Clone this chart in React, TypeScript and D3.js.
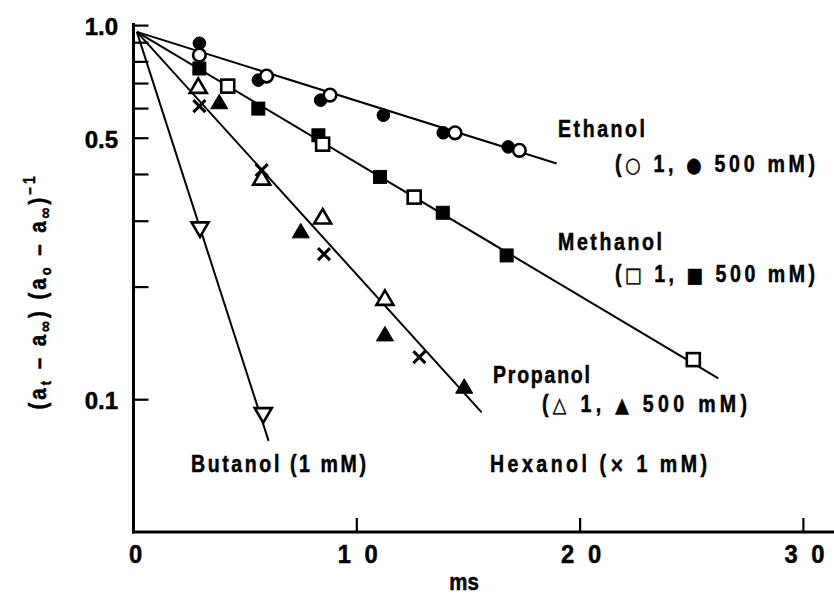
import React from "react";
import * as d3 from "d3";

type Pt = [number, number];

// ---- data (time in ms, normalized absorbance) ----
const ethanolFilled: Pt[] = [[2.95, 0.897], [5.59, 0.715], [8.38, 0.632], [11.19, 0.576], [13.87, 0.517], [16.78, 0.474]];
const ethanolOpen: Pt[] = [[2.95, 0.834], [5.96, 0.733], [8.8, 0.652], [14.4, 0.517], [17.28, 0.464]];
const methanolFilled: Pt[] = [[2.95, 0.768], [5.59, 0.6], [8.28, 0.509], [11.04, 0.394], [13.85, 0.316], [16.71, 0.243]];
const methanolOpen: Pt[] = [[4.22, 0.689], [8.47, 0.482], [12.57, 0.348], [25.07, 0.128]];
const propanolOpen: Pt[] = [[2.9, 0.686], [5.74, 0.39], [8.47, 0.307], [11.26, 0.186]];
const propanolFilled: Pt[] = [[3.84, 0.622], [7.49, 0.281], [11.26, 0.149], [14.81, 0.108]];
const hexanolCross: Pt[] = [[2.95, 0.609], [5.74, 0.411], [8.53, 0.245], [12.8, 0.13]];
const butanolOpen: Pt[] = [[2.98, 0.287], [5.81, 0.0915]];

// fitted lines: [start, end]
const lineStart: Pt = [0.15, 0.962];
const ethanolLineEnd: Pt = [18.95, 0.428];
const methanolLineEnd: Pt = [26.19, 0.114];
const propanolLineEnd: Pt = [15.59, 0.0925];
const butanolLineEnd: Pt = [6.05, 0.0776];

const xTicks = [10, 20, 30];
const xTickLabels = ["1 0", "2 0", "3 0"];
const yMinorTicks = [0.9, 0.8, 0.7, 0.6, 0.4, 0.3, 0.2];
const yMajorTicks = [1.0, 0.5, 0.1];
const yTickLabels = ["1.0", "0.5", "0.1"];

const FONT = "'Liberation Sans', Arial, sans-serif";
const SYMFONT = "'DejaVu Sans', sans-serif";

const W = 834;
const H = 603;

type Seg = { t: string; sym?: boolean };

function T(props: { x: number; y: number; txt: string | Seg[]; size: number; len?: number; anchor?: string; sx?: number }) {
  const { x, y, txt, size, len, anchor } = props;
  const sx = props.sx ?? 0.85;
  const segs: Seg[] = typeof txt === "string" ? [{ t: txt }] : txt;
  return (
    <g transform={`translate(${x},${y}) scale(${sx},1)`}>
      <text
        x={0}
        y={0}
        fontSize={size}
        fontFamily={FONT}
        fontWeight="bold"
        stroke="#000"
        strokeWidth={0.5}
        textAnchor={anchor || "start"}
        textLength={len ? len / sx : undefined}
        lengthAdjust="spacing"
      >
        {segs.map((s, i) =>
          s.sym ? (
            <tspan key={i} fontFamily={SYMFONT} fontSize={size * 0.9} fontWeight="bold">
              {s.t}
            </tspan>
          ) : (
            <tspan key={i}>{s.t}</tspan>
          )
        )}
      </text>
    </g>
  );
}

export default function App() {
  const x = d3.scaleLinear().domain([0, 31.37]).range([133.5, 834]);
  const y = d3.scaleLog().domain([0.0443, 1]).range([532, 25.6]);

  const line = d3.line<Pt>().x((d) => x(d[0])).y((d) => y(d[1]));

  const marker = (p: Pt, kind: string, i: number) => {
    const cx = x(p[0]);
    const cy = y(p[1]);
    const open = kind.startsWith("open");
    const fill = open ? "#fff" : "#000";
    const sw = open ? 2.6 : 1;
    if (kind.endsWith("circle")) return <circle key={i} cx={cx} cy={cy} r={6.3} fill={fill} stroke="#000" strokeWidth={sw} />;
    if (kind.endsWith("square")) return <rect key={i} x={cx - 6.5} y={cy - 6.5} width={13} height={13} fill={fill} stroke="#000" strokeWidth={sw} />;
    if (kind.endsWith("triup")) {
      const pth = `M${cx},${cy - 8.5}L${cx + 8.5},${cy + 6}L${cx - 8.5},${cy + 6}Z`;
      return <path key={i} d={pth} fill={fill} stroke="#000" strokeWidth={sw} />;
    }
    if (kind.endsWith("tridown")) {
      const pth = `M${cx - 8.5},${cy - 6}L${cx + 8.5},${cy - 6}L${cx},${cy + 8.5}Z`;
      return <path key={i} d={pth} fill={fill} stroke="#000" strokeWidth={sw} />;
    }
    const s = 6;
    return <path key={i} d={`M${cx - s},${cy - s}L${cx + s},${cy + s}M${cx + s},${cy - s}L${cx - s},${cy + s}`} stroke="#000" strokeWidth={3} fill="none" />;
  };

  const series: [Pt[], string][] = [
    [ethanolFilled, "filledcircle"],
    [ethanolOpen, "opencircle"],
    [methanolFilled, "filledsquare"],
    [methanolOpen, "opensquare"],
    [propanolFilled, "filledtriup"],
    [propanolOpen, "opentriup"],
    [hexanolCross, "cross"],
    [butanolOpen, "opentridown"],
  ];

  const lineEnds = [ethanolLineEnd, methanolLineEnd, propanolLineEnd, butanolLineEnd];

  const axisY0 = y.range()[0];
  const axisX0 = x(0);

  return (
    <svg width={W} height={H} style={{ position: "absolute", left: 0, top: 0, background: "#fff" }}>
      <rect x={0} y={0} width={W} height={H} fill="#fff" />
      {lineEnds.map((e, i) => (
        <path key={i} d={line([lineStart, e]) || ""} stroke="#000" strokeWidth={2} fill="none" />
      ))}
      {/* axes */}
      <line x1={axisX0} y1={23} x2={axisX0} y2={axisY0 + 1.5} stroke="#000" strokeWidth={3} />
      <line x1={axisX0 - 1.5} y1={axisY0} x2={W} y2={axisY0} stroke="#000" strokeWidth={3} />
      {xTicks.map((t, i) => (
        <g key={i}>
          <line x1={x(t)} x2={x(t)} y1={axisY0} y2={axisY0 - 14} stroke="#000" strokeWidth={2.2} />
          <T x={x(t) + 1} y={563} txt={xTickLabels[i]} size={25} len={40} anchor="middle" sx={0.95} />
        </g>
      ))}
      <T x={x(0) + 2} y={563} txt="0" size={25} anchor="middle" sx={0.95} />
      {yMinorTicks.map((v, i) => (
        <line key={i} x1={axisX0} x2={axisX0 + 15} y1={y(v)} y2={y(v)} stroke="#000" strokeWidth={2.2} />
      ))}
      {yMajorTicks.map((v, i) => (
        <g key={i}>
          <line x1={axisX0} x2={axisX0 + 15} y1={y(v)} y2={y(v)} stroke="#000" strokeWidth={2.2} />
          <T x={118} y={y(v) + 9.5} txt={yTickLabels[i]} size={24} anchor="end" sx={1} />
        </g>
      ))}
      {/* axis titles */}
      <T x={464} y={590} txt="ms" size={24} anchor="middle" sx={0.85} />
      <g transform="translate(46,293) rotate(-90) scale(0.85,1)">
        <text fontSize={24} fontFamily={FONT} fontWeight="bold" stroke="#000" strokeWidth={0.5} textAnchor="middle" textLength={233 / 0.85} lengthAdjust="spacing">
          <tspan>(a</tspan>
          <tspan fontSize={15} dy={5}>t</tspan>
          <tspan dy={-5}> – a</tspan>
          <tspan fontSize={18} dy={5}>∞</tspan>
          <tspan dy={-5}>) (a</tspan>
          <tspan fontSize={15} dy={5}>o</tspan>
          <tspan dy={-5}> – a</tspan>
          <tspan fontSize={18} dy={5}>∞</tspan>
          <tspan dy={-5}>)</tspan>
          <tspan fontSize={16} dy={-11}>–1</tspan>
        </text>
      </g>
      {/* markers */}
      {series.map(([pts, kind], si) => (
        <g key={si}>{pts.map((p, i) => marker(p, kind, i))}</g>
      ))}
      {/* labels */}
      <T x={558} y={137} txt="Ethanol" size={23} len={87} />
      <T x={615} y={172} txt={[{ t: "(" }, { t: "○", sym: true }, { t: " 1, " }, { t: "●", sym: true }, { t: " 500 mM)" }]} size={23} len={200} />
      <T x={558} y={250} txt="Methanol" size={23} len={104} />
      <T x={615} y={282} txt={[{ t: "(" }, { t: "□", sym: true }, { t: " 1, " }, { t: "■", sym: true }, { t: " 500 mM)" }]} size={23} len={200} />
      <T x={493} y={383} txt="Propanol" size={23} len={97} />
      <T x={542} y={412} txt={[{ t: "(" }, { t: "△", sym: true }, { t: " 1, " }, { t: "▲", sym: true }, { t: " 500 mM)" }]} size={23} len={205} />
      <T x={191} y={472} txt="Butanol (1 mM)" size={23} len={175} />
      <T x={490} y={472} txt={[{ t: "Hexanol (" }, { t: "×", sym: true }, { t: " 1 mM)" }]} size={23} len={217} />
    </svg>
  );
}
